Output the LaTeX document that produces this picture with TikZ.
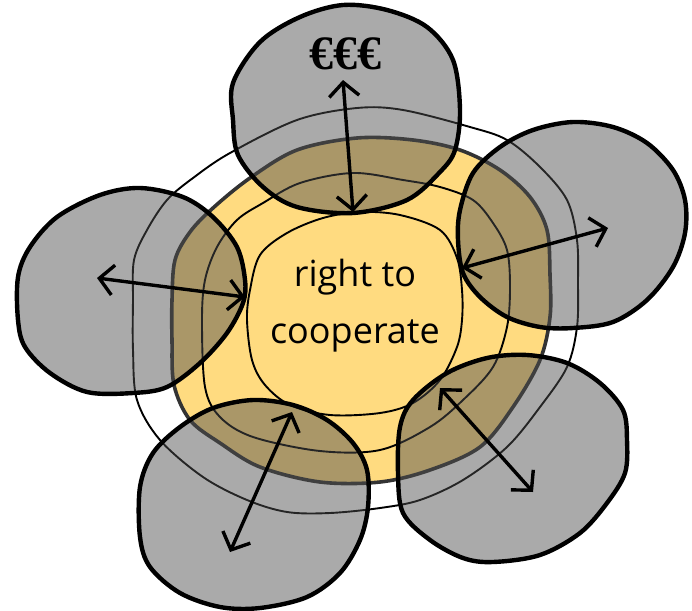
\documentclass[tikz,border=0pt]{standalone}
\usepackage{fontspec}
\usepackage{tikz}
\usetikzlibrary{arrows.meta}
\newfontfamily\handfont{Open Sans}
\newfontfamily\moneyfont{Liberation Serif}
\definecolor{coopyellow}{RGB}{255,219,128}
\definecolor{blobgray}{RGB}{78,78,78}
\definecolor{rimgray}{RGB}{51,51,51}

\begin{document}
\begin{tikzpicture}[x=1pt,y=-1pt,
		blob/.style={draw=black,line width=4.4pt,fill=blobgray,fill opacity=0.48,line join=round},
		ring/.style={draw=black,line width=1.9pt},
		link/.style={line width=3.4pt,line cap=round,{Straight Barb[length=14pt,width=30pt]}-{Straight Barb[length=14pt,width=30pt]}}]
		\useasboundingbox (0,0) rectangle (692,610);

		% yellow core with its dark rim
		\draw[fill=coopyellow,draw=rimgray,line width=3.6pt] plot[smooth cycle,tension=0.55] coordinates {
			(172,300) (175,260) (190,232) (213,208) (250,178) (297,150) (357,138) (413,140)
			(460,150) (500,170) (530,197) (547,230) (550,275) (550,317) (540,360) (513,407)
			(480,447) (430,470) (380,482) (320,482) (260,467) (220,443) (190,420) (174,385) (172,340)};

		% thin rings
		\draw[ring] plot[smooth cycle,tension=0.55] coordinates {
			(133,300) (134,260) (147,230) (167,200) (193,178) (230,153) (297,120) (357,108)
			(403,110) (470,127) (507,140) (540,167) (567,200) (577,240) (578,283) (577,327)
			(567,367) (540,407) (507,447) (463,480) (420,500) (380,508) (330,513) (287,512)
			(247,500) (203,477) (160,440) (137,400) (133,350)};
		\draw[ring] plot[smooth cycle,tension=0.55] coordinates {
			(202,320) (205,280) (217,247) (237,220) (263,203) (300,183) (353,173) (403,180)
			(440,187) (473,200) (493,223) (507,250) (510,287) (507,327) (493,367) (463,400)
			(430,427) (380,450) (320,451) (253,437) (220,417) (205,387)};
		\draw[ring] plot[smooth cycle,tension=0.55] coordinates {
			(247,320) (250,290) (260,255) (287,233) (323,218) (360,212) (400,215) (440,230)
			(457,258) (462,290) (462,320) (457,347) (440,380) (413,403) (380,413) (330,415)
			(290,405) (265,385) (252,360)};

		% the five outside blobs
		\draw[blob] plot[smooth cycle,tension=0.55] coordinates {
			(233,83) (260,42) (300,17) (343,5) (387,10) (427,27) (453,60) (460,110)
			(455,150) (440,172) (407,200) (353,213) (297,207) (263,187) (238,155) (233,120)};
		\draw[blob] plot[smooth cycle,tension=0.55] coordinates {
			(140,188) (100,195) (57,217) (30,247) (18,277) (18,320) (25,347) (50,373)
			(87,392) (133,393) (167,387) (200,363) (227,333) (243,303) (245,280) (237,247)
			(213,217) (183,197)};
		\draw[blob] plot[smooth cycle,tension=0.55] coordinates {
			(460,210) (473,173) (500,147) (533,130) (573,122) (613,127) (647,143) (673,170)
			(685,200) (685,233) (673,267) (647,300) (613,322) (573,328) (540,327) (507,317)
			(480,297) (463,273) (458,240)};
		\draw[blob] plot[smooth cycle,tension=0.55] coordinates {
			(180,427) (213,408) (253,400) (293,405) (327,420) (353,443) (367,470) (368,507)
			(360,540) (340,573) (307,597) (260,608) (220,607) (180,593) (150,567) (140,537)
			(140,487) (153,453)};
		\draw[blob] plot[smooth cycle,tension=0.55] coordinates {
			(400,427) (413,400) (447,373) (487,358) (527,355) (567,363) (600,383) (623,410)
			(627,440) (625,473) (607,503) (580,533) (540,555) (493,562) (463,558) (430,540)
			(403,513) (398,473)};

		\node[font=\moneyfont\bfseries\fontsize{48}{48}\selectfont] (money) at (345,54) {€€€};
		\node[font=\handfont\fontsize{36}{57}\selectfont,align=center] (right) at (355,306) {right to\\cooperate};

		% arrow ends
		\coordinate (topOut) at (343,80);
		\coordinate (topIn) at (353,212);
		\coordinate (leftOut) at (97,278);
		\coordinate (leftIn) at (245,297);
		\coordinate (eastOut) at (608,228);
		\coordinate (eastIn) at (462,268);
		\coordinate (lowLeftIn) at (292,412);
		\coordinate (lowLeftOut) at (230,552);
		\coordinate (lowRightIn) at (440,388);
		\coordinate (lowRightOut) at (533,492);

		\draw[link] (topOut) -- (topIn);
		\draw[link] (leftOut) -- (leftIn);
		\draw[link] (eastOut) -- (eastIn);
		\draw[link] (lowLeftIn) -- (lowLeftOut);
		\draw[link] (lowRightIn) -- (lowRightOut);
\end{tikzpicture}
\end{document}
